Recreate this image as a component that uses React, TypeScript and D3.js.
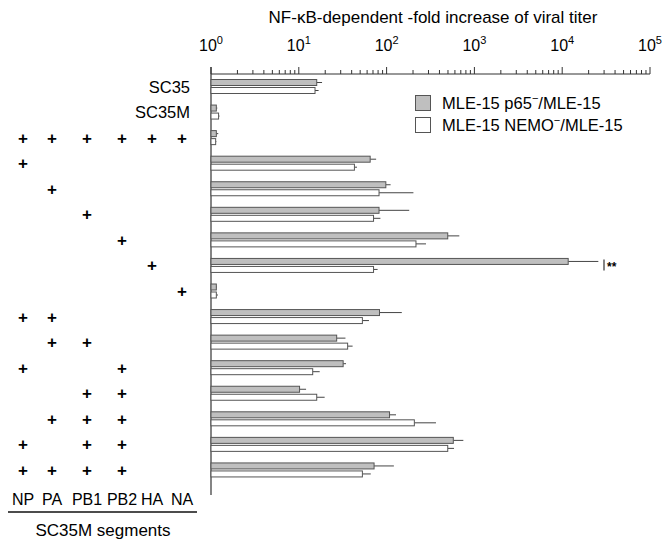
import React, { useEffect, useRef } from "react";
import * as d3 from "d3";

// row labels on the left (only first two have names)
const rowNames = ["SC35", "SC35M", "", "", "", "", "", "", "", "", "", "", "", "", "", ""];
const segments = ["NP", "PA", "PB1", "PB2", "HA", "NA"];
// which SC35M segments are in each row (1 = "+")
const plusRows = [
  [0, 0, 0, 0, 0, 0],
  [0, 0, 0, 0, 0, 0],
  [1, 1, 1, 1, 1, 1],
  [1, 0, 0, 0, 0, 0],
  [0, 1, 0, 0, 0, 0],
  [0, 0, 1, 0, 0, 0],
  [0, 0, 0, 1, 0, 0],
  [0, 0, 0, 0, 1, 0],
  [0, 0, 0, 0, 0, 1],
  [1, 1, 0, 0, 0, 0],
  [0, 1, 1, 0, 0, 0],
  [1, 0, 0, 1, 0, 0],
  [0, 0, 1, 1, 0, 0],
  [0, 1, 1, 1, 0, 0],
  [1, 0, 1, 1, 0, 0],
  [1, 1, 1, 1, 0, 0]
];
const p65Values = [16, 1.15, 1.15, 65, 98, 82, 497, 11700, 1.15, 83, 27, 32, 10.2, 108, 575, 72];
const p65Errors = [18.4, 1.18, 1.21, 76, 111, 181, 673, 25800, 1.17, 149, 34, 34.5, 12.1, 128, 748, 121];
const nemoValues = [15.3, 1.22, 1.13, 43, 82, 71, 216, 71, 1.15, 53, 36, 14.4, 16, 207, 497, 53];
const nemoErrors = [16.8, 1.25, 1.15, 46, 202, 85, 281, 79, 1.2, 63, 41, 17.3, 19.7, 365, 586, 66];
const tickExponents = [0, 1, 2, 3, 4, 5];
const legendLabels = [
  { pre: "MLE-15 p65", post: "/MLE-15" },
  { pre: "MLE-15 NEMO", post: "/MLE-15" }
];

const W = 663;
const H = 541;
const font = "Liberation Sans, Arial, sans-serif";

export default function App() {
  const ref = useRef<SVGSVGElement>(null);

  useEffect(() => {
    const svg = d3.select(ref.current);
    svg.selectAll("*").remove();

    const x = d3.scaleLog().domain([1, 1e5]).range([211, 650]);
    const rows = d3.range(rowNames.length);
    const y = d3.scaleBand<number>().domain(rows).range([73.5, 482.5]);
    // segment columns are not evenly spaced in the original
    const colX = d3.scaleOrdinal<string, number>().domain(segments).range([23, 52, 87, 122, 152, 182]);
    const axisY = 74;
    const barH = 6;

    // title
    svg
      .append("text")
      .attr("x", 433)
      .attr("y", 23)
      .attr("text-anchor", "middle")
      .style("font-family", font)
      .style("font-size", "17px")
      .text("NF-\u03BAB-dependent -fold increase of viral titer");

    // top axis line + ticks
    svg
      .append("line")
      .attr("x1", x(1))
      .attr("x2", x(1e5))
      .attr("y1", axisY)
      .attr("y2", axisY)
      .attr("stroke", "#333")
      .attr("stroke-width", 1.2);

    const allTicks = x.ticks();
    svg
      .selectAll(".tick")
      .data(allTicks)
      .enter()
      .append("line")
      .attr("x1", d => x(d))
      .attr("x2", d => x(d))
      .attr("y1", axisY)
      .attr("y2", d => (Math.abs(Math.log10(d) - Math.round(Math.log10(d))) < 1e-9 ? axisY - 7 : axisY - 4))
      .attr("stroke", "#333")
      .attr("stroke-width", 1);

    const labels = svg
      .selectAll(".tlab")
      .data(tickExponents)
      .enter()
      .append("text")
      .attr("x", d => x(Math.pow(10, d)))
      .attr("y", 51)
      .attr("text-anchor", "middle")
      .style("font-family", font)
      .style("font-size", "16px");
    labels.append("tspan").text("10");
    labels
      .append("tspan")
      .attr("dy", -7)
      .style("font-size", "11px")
      .text(d => String(d));

    // vertical axis
    svg
      .append("line")
      .attr("x1", x(1))
      .attr("x2", x(1))
      .attr("y1", 67)
      .attr("y2", 495)
      .attr("stroke", "#333")
      .attr("stroke-width", 1.2);

    // bars
    const series = [
      { vals: p65Values, errs: p65Errors, off: 6, fill: "#bfbfbf" },
      { vals: nemoValues, errs: nemoErrors, off: 14, fill: "#ffffff" }
    ];
    series.forEach(s => {
      const g = svg.append("g");
      g.selectAll("line")
        .data(rows)
        .enter()
        .append("line")
        .attr("x1", i => x(s.vals[i]))
        .attr("x2", i => x(s.errs[i]))
        .attr("y1", i => (y(i) as number) + s.off + barH / 2)
        .attr("y2", i => (y(i) as number) + s.off + barH / 2)
        .attr("stroke", "#444")
        .attr("stroke-width", 1);
      g.selectAll("rect")
        .data(rows)
        .enter()
        .append("rect")
        .attr("x", x(1))
        .attr("y", i => (y(i) as number) + s.off)
        .attr("width", i => x(s.vals[i]) - x(1))
        .attr("height", barH)
        .attr("fill", s.fill)
        .attr("stroke", "#555")
        .attr("stroke-width", 1);
    });

    // significance mark on HA row
    const haY = (y(7) as number) + 13;
    svg
      .append("line")
      .attr("x1", 604)
      .attr("x2", 604)
      .attr("y1", haY - 6)
      .attr("y2", haY + 5)
      .attr("stroke", "#333")
      .attr("stroke-width", 1.2);
    svg
      .append("text")
      .attr("x", 607)
      .attr("y", haY + 6)
      .style("font-family", font)
      .style("font-size", "12px")
      .style("font-weight", "bold")
      .text("**");

    // row names
    svg
      .selectAll(".rname")
      .data(rows.filter(i => rowNames[i]))
      .enter()
      .append("text")
      .attr("x", 190)
      .attr("y", i => (y(i) as number) + 13 + 6)
      .attr("text-anchor", "end")
      .style("font-family", font)
      .style("font-size", "16.5px")
      .text(i => rowNames[i]);

    // plus matrix
    rows.forEach(i => {
      plusRows[i].forEach((v, j) => {
        if (!v) return;
        svg
          .append("text")
          .attr("x", colX(segments[j]))
          .attr("y", (y(i) as number) + 13 + 6)
          .attr("text-anchor", "middle")
          .style("font-family", font)
          .style("font-size", "17px")
          .style("font-weight", "bold")
          .text("+");
      });
    });

    // segment labels
    svg
      .selectAll(".seg")
      .data(segments)
      .enter()
      .append("text")
      .attr("x", d => colX(d))
      .attr("y", 505)
      .attr("text-anchor", "middle")
      .style("font-family", font)
      .style("font-size", "16px")
      .text(d => d);
    svg
      .append("line")
      .attr("x1", 8)
      .attr("x2", 197)
      .attr("y1", 512)
      .attr("y2", 512)
      .attr("stroke", "#111")
      .attr("stroke-width", 1.5);
    svg
      .append("text")
      .attr("x", 103)
      .attr("y", 536)
      .attr("text-anchor", "middle")
      .style("font-family", font)
      .style("font-size", "17px")
      .text("SC35M segments");

    // legend
    const lg = svg.append("g");
    legendLabels.forEach((l, k) => {
      const ly = 95 + k * 22;
      lg.append("rect")
        .attr("x", 415.5)
        .attr("y", ly + 0.5)
        .attr("width", 15)
        .attr("height", 15)
        .attr("fill", series[k].fill)
        .attr("stroke", "#555")
        .attr("stroke-width", 1);
      const t = lg
        .append("text")
        .attr("x", 442)
        .attr("y", ly + 14)
        .style("font-family", font)
        .style("font-size", "16.5px");
      t.append("tspan").text(l.pre);
      t.append("tspan").attr("dy", -7).style("font-size", "11px").text("\u2212");
      t.append("tspan").attr("dy", 7).text(l.post);
    });
  }, []);

  return (
    <svg
      ref={ref}
      width={W}
      height={H}
      style={{ position: "absolute", left: 0, top: 0, background: "#fff" }}
    />
  );
}
